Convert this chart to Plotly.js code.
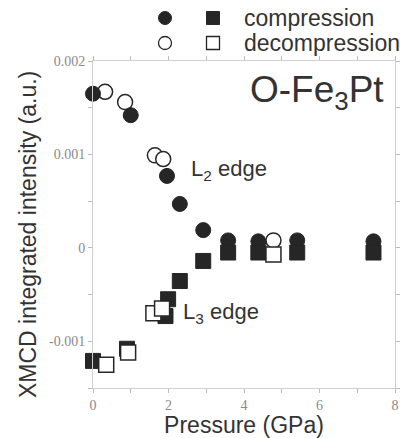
<!DOCTYPE html>
<html>
<head>
<meta charset="utf-8">
<script src="https://cdn.plot.ly/plotly-3.0.1.min.js"></script>
<style>html,body{margin:0;padding:0;background:#fff;}#chart{width:400px;height:438px;}</style>
</head>
<body>
<div id="chart"></div>
<script>
// L2 edge (circles)
const compCircleX = [0, 1.0, 1.96, 2.3, 2.92, 3.58, 4.38, 5.41, 7.43];
const compCircleY = [0.00165, 0.00142, 0.00077, 0.00047, 0.00019, 0.00008, 0.00007, 0.00008, 0.00007];
const decompCircleX = [0.32, 0.85, 1.64, 1.86, 4.78];
const decompCircleY = [0.00167, 0.00156, 0.00099, 0.00095, 0.00008];
// L3 edge (squares)
const compSquareX = [0, 0.9, 1.92, 1.99, 2.3, 2.92, 3.58, 4.38, 5.41, 7.43];
const compSquareY = [-0.00121, -0.00108, -0.00073, -0.00055, -0.000355, -0.00014, -0.00005, -0.00005, -0.00005, -0.00005];
const decompSquareX = [0.35, 0.93, 1.6, 1.83, 4.78];
const decompSquareY = [-0.00125, -0.00112, -0.0007, -0.00065, -0.00007];

const xTickVals = [0, 2, 4, 6, 8];
const xTickText = ['0', '2', '4', '6', '8'];
const xMinorVals = [1, 3, 5, 7];
const yTickVals = [-0.001, 0, 0.001, 0.002];
const yTickText = ['-0.001', '0', '0.001', '0.002'];
const yMinorVals = [-0.0015, -0.0005, 0.0005, 0.0015];

const dark = '#262626';
const traces = [
  {x: decompCircleX, y: decompCircleY, mode: 'markers', type: 'scatter', cliponaxis: false,
   marker: {symbol: 'circle', size: 15, color: '#fff', line: {color: dark, width: 1.5}}},
  {x: compCircleX, y: compCircleY, mode: 'markers', type: 'scatter', cliponaxis: false,
   marker: {symbol: 'circle', size: 15, color: dark, line: {color: dark, width: 1}}},
  {x: compSquareX, y: compSquareY, mode: 'markers', type: 'scatter', cliponaxis: false,
   marker: {symbol: 'square', size: 15, color: dark, line: {color: dark, width: 1}}},
  {x: decompSquareX, y: decompSquareY, mode: 'markers', type: 'scatter', cliponaxis: false,
   marker: {symbol: 'square', size: 15, color: '#fff', line: {color: dark, width: 1.5}}}
];

const W = 302, H = 327, L = 93, T = 61;
function px(p) { return (p - L) / W; }
function py(p) { return (T + H - p) / H; }

function mk(type, cx, cy, filled) {
  return {type: type, xref: 'paper', yref: 'paper', xsizemode: 'pixel', ysizemode: 'pixel',
    xanchor: px(cx), yanchor: py(cy), x0: -6.5, x1: 6.5, y0: -6.5, y1: 6.5,
    fillcolor: filled ? dark : '#fff', line: {color: dark, width: filled ? 1 : 1.3}};
}

const axisCommon = {
  showgrid: false, zeroline: false, showline: true, linecolor: '#cfcfcf', linewidth: 1,
  mirror: 'ticks', ticks: 'outside', ticklen: 4, tickcolor: '#bbb', tickpad: 2,
  tickfont: {family: 'Liberation Serif, serif', size: 14, color: '#8a8a8a'}
};

const layout = {
  width: 400, height: 438,
  margin: {l: L, r: 400 - L - W, t: T, b: 438 - T - H},
  showlegend: false,
  paper_bgcolor: '#fff', plot_bgcolor: '#fff',
  font: {family: 'Liberation Sans, Arial, sans-serif', color: '#333'},
  xaxis: Object.assign({}, axisCommon, {
    range: [0, 8], tickmode: 'array', tickvals: xTickVals, ticktext: xTickText,
    minor: {tickvals: xMinorVals, ticks: 'outside', ticklen: 4, tickcolor: '#bbb'},
    title: {text: 'Pressure (GPa)', font: {size: 23, color: '#333'}, standoff: 6}
  }),
  yaxis: Object.assign({}, axisCommon, {
    range: [-0.0015, 0.002], tickmode: 'array', tickvals: yTickVals, ticktext: yTickText,
    minor: {tickvals: yMinorVals, ticks: 'outside', ticklen: 4, tickcolor: '#bbb'}
  }),
  annotations: [
    {xref: 'paper', yref: 'paper', x: px(28), y: py(235), xanchor: 'center', yanchor: 'middle',
     textangle: -90, text: 'XMCD integrated intensity (a.u.)', showarrow: false,
     font: {size: 23, color: '#333'}},
    {xref: 'paper', yref: 'paper', x: px(386), y: py(92), xanchor: 'right', yanchor: 'middle',
     text: 'O-Fe<sub>3</sub>Pt', showarrow: false, font: {size: 37, color: '#333'}},
    {xref: 'paper', yref: 'paper', x: px(189), y: py(170), xanchor: 'left', yanchor: 'middle',
     text: 'L<sub>2</sub> edge', showarrow: false, font: {size: 22, color: '#333'}},
    {xref: 'paper', yref: 'paper', x: px(181), y: py(313), xanchor: 'left', yanchor: 'middle',
     text: 'L<sub>3</sub> edge', showarrow: false, font: {size: 22, color: '#333'}},
    {xref: 'paper', yref: 'paper', x: px(242), y: py(18), xanchor: 'left', yanchor: 'middle',
     text: 'compression', showarrow: false, font: {size: 23, color: '#333'}},
    {xref: 'paper', yref: 'paper', x: px(242), y: py(43), xanchor: 'left', yanchor: 'middle',
     text: 'decompression', showarrow: false, font: {size: 23, color: '#333'}}
  ],
  shapes: [
    mk('circle', 165, 18, true), mk('rect', 213, 18, true),
    mk('circle', 165, 43, false), mk('rect', 213, 43, false)
  ]
};

Plotly.newPlot('chart', traces, layout, {displayModeBar: false, staticPlot: true});
</script>
</body>
</html>
